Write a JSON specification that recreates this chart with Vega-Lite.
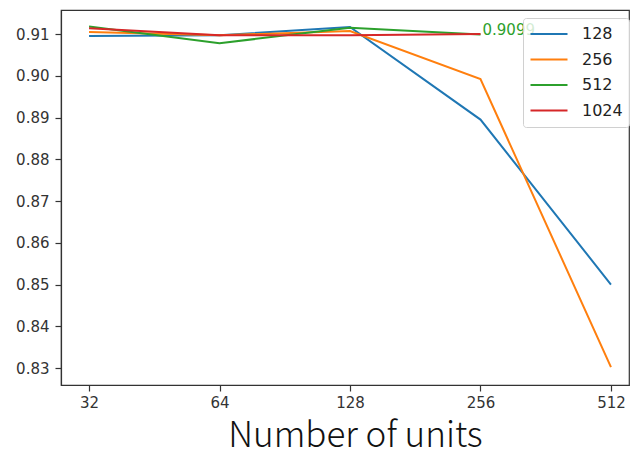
{
  "$schema": "https://vega.github.io/schema/vega-lite/v6.json",
  "width": 568,
  "height": 375,
  "autosize": {"type": "none"},
  "padding": {"left": 61, "top": 10, "right": 2, "bottom": 65},
  "background": "white",
  "config": {
    "view": {"stroke": "#333333", "strokeWidth": 1.2},
    "axis": {
      "grid": false,
      "domainColor": "#333333",
      "tickColor": "#333333",
      "labelColor": "#333333",
      "labelFont": "DejaVu Sans",
      "labelFontSize": 15,
      "tickSize": 6,
      "tickWidth": 1.2,
      "domainWidth": 1.2
    }
  },
  "data": {
    "values": [
      {"units": 32, "acc": 0.9095, "batch": "128"},
      {"units": 64, "acc": 0.9097, "batch": "128"},
      {"units": 128, "acc": 0.9117, "batch": "128"},
      {"units": 256, "acc": 0.8895, "batch": "128"},
      {"units": 512, "acc": 0.8500, "batch": "128"},
      {"units": 32, "acc": 0.9105, "batch": "256"},
      {"units": 64, "acc": 0.9097, "batch": "256"},
      {"units": 128, "acc": 0.9107, "batch": "256"},
      {"units": 256, "acc": 0.8992, "batch": "256"},
      {"units": 512, "acc": 0.8302, "batch": "256"},
      {"units": 32, "acc": 0.9118, "batch": "512"},
      {"units": 64, "acc": 0.9078, "batch": "512"},
      {"units": 128, "acc": 0.9115, "batch": "512"},
      {"units": 256, "acc": 0.9099, "batch": "512"},
      {"units": 32, "acc": 0.9114, "batch": "1024"},
      {"units": 64, "acc": 0.9097, "batch": "1024"},
      {"units": 128, "acc": 0.9097, "batch": "1024"},
      {"units": 256, "acc": 0.9100, "batch": "1024"}
    ]
  },
  "layer": [
    {
      "mark": {"type": "line", "strokeWidth": 2, "clip": true},
      "encoding": {
        "x": {
          "field": "units",
          "type": "quantitative",
          "scale": {"type": "log", "base": 2, "domain": [27.57, 563.5], "nice": false},
          "axis": {
            "values": [32, 64, 128, 256, 512],
            "format": "d",
            "labelPadding": 4,
            "title": "Number of units",
            "titleFont": "Noto Sans CJK SC",
            "titleFontSize": 35,
            "titleFontWeight": 300,
            "titleColor": "#111111",
            "titleX": 294,
            "titleY": 61,
            "titleBaseline": "alphabetic"
          }
        },
        "y": {
          "field": "acc",
          "type": "quantitative",
          "scale": {"domain": [0.82593, 0.91575], "nice": false, "zero": false},
          "axis": {
            "values": [0.83, 0.84, 0.85, 0.86, 0.87, 0.88, 0.89, 0.90, 0.91],
            "format": ".2f",
            "labelPadding": 6,
            "title": null
          }
        },
        "color": {
          "field": "batch",
          "type": "nominal",
          "scale": {
            "domain": ["128", "256", "512", "1024"],
            "range": ["#1f77b4", "#ff7f0e", "#2ca02c", "#d62728"]
          },
          "legend": {
            "title": null,
            "orient": "none",
            "legendX": 462,
            "legendY": 8,
            "symbolType": "stroke",
            "symbolSize": 1369,
            "symbolStrokeWidth": 2.2,
            "labelFont": "DejaVu Sans",
            "labelFontSize": 16,
            "labelColor": "#222222",
            "labelOffset": 13,
            "clipHeight": 20,
            "rowPadding": 5.5,
            "padding": 6,
            "fillColor": "rgba(255,255,255,0.8)",
            "strokeColor": "#d0d0d0",
            "cornerRadius": 3
          }
        },
        "order": {"value": 0}
      }
    },
    {
      "transform": [{"filter": "datum.batch === '512' && datum.units === 256"}],
      "mark": {
        "type": "text",
        "align": "left",
        "baseline": "alphabetic",
        "dx": 2,
        "dy": 1,
        "font": "DejaVu Sans",
        "fontSize": 15,
        "color": "#2ca02c"
      },
      "encoding": {
        "x": {"field": "units", "type": "quantitative"},
        "y": {"field": "acc", "type": "quantitative"},
        "text": {"field": "acc", "type": "quantitative", "format": ".4f"}
      }
    }
  ]
}
